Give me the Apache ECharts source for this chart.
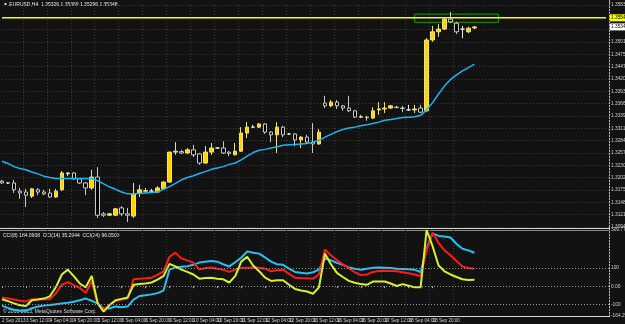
<!DOCTYPE html>
<html>
<head>
<meta charset="utf-8">
<script src="https://cdn.jsdelivr.net/npm/echarts@6/dist/echarts.min.js"></script>
<style>
  html, body { margin: 0; padding: 0; background: #121212; }
  #chart { width: 625px; height: 324px; }
</style>
</head>
<body>
<div id="chart"></div>
<script>
// EURUSD H4 with a moving average and three CCI lines, MetaTrader style

const titleText = '\u25BC EURUSD,H4  1.35326 1.35369 1.35296 1.35348';
const cciLegendText = 'CCI(8) 184.0908  CCI(14) 35.2944  CCI(24) 96.0503';
const copyrightText = '\u00A9 2001-2013, MetaQuotes Software Corp.';

const timeLabels = ['2 Sep 2013', '3 Sep 12:00', '4 Sep 04:00', '4 Sep 20:00', '5 Sep 12:00',
  '6 Sep 04:00', '6 Sep 20:00', '9 Sep 12:00', '10 Sep 04:00', '10 Sep 20:00',
  '11 Sep 12:00', '12 Sep 04:00', '12 Sep 20:00', '13 Sep 12:00', '16 Sep 04:00',
  '16 Sep 20:00', '17 Sep 12:00', '18 Sep 04:00', '18 Sep 20:00', '19 Sep 12:00'];

const priceTicks = ['1.30940', '1.31210', '1.31485', '1.31755', '1.32025', '1.32300',
  '1.32570', '1.32845', '1.33115', '1.33390', '1.33660', '1.33930', '1.34200',
  '1.34475', '1.34750', '1.35015', '', '', '1.35830'];
const priceMin = 1.3094;
const priceStep = 0.002717;

const opens = [
  1.3195, 1.3191, 1.3191, 1.3173, 1.3171, 1.3162, 1.3176, 1.3171, 1.3169, 1.3160,
  1.3176, 1.3211, 1.3213, 1.3200, 1.3191, 1.3180, 1.3204, 1.3123, 1.3120, 1.3120,
  1.3136, 1.3123, 1.3118, 1.3169, 1.3173, 1.3173, 1.3171, 1.3178, 1.3193, 1.3259,
  1.3260, 1.3257, 1.3264, 1.3255, 1.3235, 1.3259, 1.3268, 1.3268, 1.3259, 1.3253,
  1.3261, 1.3301, 1.3314, 1.3314, 1.3321, 1.3303, 1.3297, 1.3314, 1.3299, 1.3299,
  1.3286, 1.3292, 1.3281, 1.3277, 1.3367, 1.3361, 1.3369, 1.3361, 1.3356, 1.3350,
  1.3336, 1.3336, 1.3334, 1.3352, 1.3354, 1.3356, 1.3358, 1.3356, 1.3352, 1.3352,
  1.3356, 1.3350, 1.3506, 1.3524, 1.3530, 1.3552, 1.3543, 1.3530, 1.3524, 1.35326];
const closes = [
  1.3191, 1.3191, 1.3176, 1.3169, 1.3164, 1.3178, 1.3171, 1.3167, 1.3160, 1.3173,
  1.3213, 1.3213, 1.3200, 1.3191, 1.3180, 1.3204, 1.3120, 1.3120, 1.3123, 1.3134,
  1.3123, 1.3120, 1.3167, 1.3176, 1.3174, 1.3173, 1.3180, 1.3193, 1.3259, 1.3261,
  1.3257, 1.3264, 1.3253, 1.3235, 1.3259, 1.3268, 1.3268, 1.3257, 1.3256, 1.3261,
  1.3301, 1.3314, 1.3314, 1.3321, 1.3303, 1.3297, 1.3314, 1.3297, 1.3299, 1.3286,
  1.3292, 1.3281, 1.3277, 1.3303, 1.3361, 1.3369, 1.3361, 1.3356, 1.3350, 1.3336,
  1.3337, 1.3335, 1.3350, 1.3354, 1.3356, 1.3361, 1.3357, 1.3355, 1.3352, 1.3354,
  1.3347, 1.3506, 1.3524, 1.3530, 1.3552, 1.3546, 1.3524, 1.3530, 1.3532, 1.35348];
const lows = [
  1.3189, 1.3189, 1.3169, 1.3156, 1.3138, 1.3158, 1.3164, 1.3164, 1.3158, 1.3158,
  1.3173, 1.3206, 1.3198, 1.3189, 1.3164, 1.3176, 1.3114, 1.3116, 1.3118, 1.3118,
  1.3118, 1.3105, 1.3114, 1.3160, 1.3169, 1.3171, 1.3169, 1.3176, 1.3191, 1.3253,
  1.3255, 1.3255, 1.3248, 1.3231, 1.3233, 1.3253, 1.3266, 1.3255, 1.3250, 1.3252,
  1.3259, 1.3290, 1.3312, 1.3312, 1.3299, 1.3281, 1.3257, 1.3292, 1.3297, 1.3272,
  1.3268, 1.3279, 1.3257, 1.3275, 1.3356, 1.3358, 1.3354, 1.3350, 1.3347, 1.3334,
  1.3334, 1.3328, 1.3332, 1.3341, 1.3345, 1.3354, 1.3356, 1.3347, 1.3350, 1.3345,
  1.3345, 1.3347, 1.3502, 1.3513, 1.3528, 1.3543, 1.3519, 1.3510, 1.3521, 1.35296];
const highs = [
  1.3198, 1.3193, 1.3198, 1.3180, 1.3178, 1.3180, 1.3180, 1.3176, 1.3178, 1.3178,
  1.3217, 1.3215, 1.3215, 1.3202, 1.3193, 1.3220, 1.3226, 1.3127, 1.3125, 1.3136,
  1.3140, 1.3136, 1.3191, 1.3187, 1.3180, 1.3178, 1.3184, 1.3195, 1.3260, 1.3281,
  1.3264, 1.3268, 1.3275, 1.3257, 1.3272, 1.3279, 1.3270, 1.3283, 1.3261, 1.3279,
  1.3314, 1.3325, 1.3319, 1.3323, 1.3323, 1.3305, 1.3325, 1.3317, 1.3301, 1.3301,
  1.3294, 1.3297, 1.3323, 1.3310, 1.3383, 1.3374, 1.3374, 1.3363, 1.3383, 1.3352,
  1.3341, 1.3339, 1.3358, 1.3369, 1.3369, 1.3363, 1.3361, 1.3361, 1.3363, 1.3363,
  1.3363, 1.3510, 1.3537, 1.3541, 1.3554, 1.3568, 1.3546, 1.3537, 1.3535, 1.35369];

const maValues = [
  1.3239, 1.3234, 1.3227, 1.3223, 1.3220, 1.3215, 1.3211, 1.3206, 1.3203, 1.3201,
  1.3201, 1.3201, 1.3201, 1.3201, 1.3201, 1.3201, 1.3196, 1.3189, 1.3182, 1.3177,
  1.3171, 1.3167, 1.3167, 1.3168, 1.3169, 1.3170, 1.3171, 1.3177, 1.3183, 1.3190,
  1.3198, 1.3203, 1.3207, 1.3212, 1.3216, 1.3221, 1.3224, 1.3227, 1.3232, 1.3235,
  1.3242, 1.3250, 1.3258, 1.3263, 1.3265, 1.3268, 1.3271, 1.3274, 1.3275, 1.3276,
  1.3277, 1.3278, 1.3281, 1.3285, 1.3292, 1.3298, 1.3304, 1.3309, 1.3312, 1.3314,
  1.3317, 1.3319, 1.3322, 1.3325, 1.3329, 1.3331, 1.3333, 1.3335, 1.3336, 1.3337,
  1.3340, 1.3352, 1.3368, 1.3387, 1.3405, 1.3419, 1.3429, 1.3438, 1.3445, 1.3453];

const cciBlue = [
  -107.1, -119.5, -130.1, -135.4, -135.4, -121.3, -112.4, -107.1, -103.6, -100.0,
  -94.7, -91.2, -85.9, -77.0, -68.2, -80.5, -94.7, -124.8, -121.3, -112.4,
  -115.9, -112.4, -73.5, -54.0, -50.5, -45.1, -38.1, -24.0, 91.2, 103.5,
  107.1, 110.6, 117.7, 130.1, 135.4, 138.9, 135.4, 121.2, 108.9, 131.9,
  156.6, 192.0, 184.9, 179.6, 158.4, 135.4, 121.2, 117.7, 96.5, 78.8,
  73.5, 69.9, 77.0, 91.2, 153.1, 142.5, 128.3, 117.7, 103.5, 96.5,
  91.2, 96.5, 101.8, 103.5, 101.8, 100.0, 96.5, 94.7, 92.9, 91.2,
  77.0, 208.0, 291.2, 277.0, 273.5, 268.2, 232.8, 206.2, 197.4, 184.09];
const cciYellow = [
  -71.7, -82.3, -94.7, -105.3, -108.9, -77.0, -73.5, -68.2, -55.8, -6.2,
  64.6, 91.2, 55.8, 15.0, -6.2, 55.8, -94.7, -140.0, -103.6, -77.0,
  -69.9, -62.8, 7.9, 11.5, 15.0, 20.4, 36.3, 55.8, 123.0, 108.9,
  91.2, 78.8, 64.6, 41.6, 45.1, 46.9, 41.6, 38.1, 20.4, 55.8,
  135.4, 162.0, 114.2, 82.3, 46.9, 29.2, 32.7, 32.7, 7.9, -15.1,
  -23.9, -29.2, -41.6, -6.2, 179.6, 121.2, 73.5, 50.5, 29.2, 18.6,
  11.5, 7.9, 25.7, 25.7, 25.7, 15.0, 0.9, 11.5, 2.7, -6.2,
  -6.2, 309.77, 220.4, 114.2, 82.3, 64.6, 50.5, 38.1, 34.6, 35.29];
const cciRed = [
  -62.8, -68.1, -73.4, -80.5, -84.0, -71.6, -71.6, -71.6, -71.6, -39.7,
  8.0, 22.2, 6.3, -9.7, -36.2, 25.5, -94.7, -130.1, -103.6, -80.5,
  -73.5, -68.2, 38.1, 41.6, 43.4, 46.9, 62.8, 82.3, 162.0, 185.0,
  153.1, 142.5, 130.1, 91.2, 100.0, 103.5, 96.5, 91.2, 78.8, 91.2,
  100.0, 101.8, 103.5, 101.8, 96.5, 82.3, 87.6, 91.2, 68.1, 46.9,
  45.1, 43.4, 41.6, 64.6, 202.7, 170.8, 144.3, 121.2, 98.2, 77.0,
  61.1, 64.6, 78.8, 84.1, 85.8, 84.1, 82.3, 77.0, 71.7, 64.6,
  55.8, 199.0, 294.7, 238.1, 197.4, 170.8, 139.0, 108.9, 100.0, 96.05];

const cciLevels = [100, 0, -100];
const cciLevelLabels = ['100', '0.00', '-100'];
const cciRange = [-164.299, 309.7738];
const cciRangeLabels = ['-164.299', '309.7738'];

const hLinePrice = 1.35548;
const lastPrice = 1.35348;
const boxCorners = [[69, 1.3563], [83, 1.3545]];
const slotCount = 102;

const categories = Array.from({ length: slotCount }, (_, i) => String(i));
const candles = opens.map((o, i) => [o, closes[i], lows[i], highs[i]]);

const font = 'Liberation Sans';
const gridDots = { color: '#3a3a3a', type: [1, 2], width: 1 };
const isLabelSlot = (i) => i % 4 === 0 && i / 4 < timeLabels.length;

// a flat line across every slot at a given price, with a tag on the price scale
function priceTag(name, price, lineColor, tagBg) {
  return {
    name, type: 'line', xAxisIndex: 0, yAxisIndex: 0, silent: true,
    data: categories.map(() => price), symbol: 'none', z: 5,
    lineStyle: { color: lineColor, width: lineColor ? 1.5 : 0, opacity: lineColor ? 1 : 0 },
    endLabel: {
      show: true, formatter: price.toFixed(5), distance: 4,
      backgroundColor: tagBg, color: '#000', fontSize: 4.8, padding: [1, 1], fontFamily: font
    }
  };
}

const chart = echarts.init(document.getElementById('chart'));

const option = {
  animation: false,
  backgroundColor: '#121212',
  textStyle: { fontFamily: font },
  grid: [
    { left: -1, top: 5, width: 610, height: 222, containLabel: false, outerBoundsMode: 'none' },
    { left: -1, top: 230, width: 610, height: 86, containLabel: false, outerBoundsMode: 'none' }
  ],
  xAxis: [
    {
      type: 'category', gridIndex: 0, data: categories, boundaryGap: true,
      axisLine: { show: false }, axisTick: { show: false }, axisLabel: { show: false },
      splitLine: { show: true, interval: isLabelSlot, lineStyle: gridDots }
    },
    {
      type: 'category', gridIndex: 1, data: categories, boundaryGap: true,
      axisLine: { show: false },
      axisTick: { show: true, alignWithLabel: true, interval: isLabelSlot, length: 2, lineStyle: { color: '#bbb' } },
      axisLabel: {
        show: true, interval: isLabelSlot, align: 'left', margin: 2, showMinLabel: true,
        hideOverlap: false, fontSize: 4.6, color: '#d0d0d0', fontFamily: font,
        formatter: (v, i) => (isLabelSlot(i) ? timeLabels[i / 4] : '')
      },
      splitLine: { show: true, interval: isLabelSlot, lineStyle: gridDots }
    }
  ],
  yAxis: [
    {
      type: 'value', gridIndex: 0, position: 'right', scale: true,
      min: priceMin, max: priceMin + 18 * priceStep, interval: priceStep,
      axisLine: { show: false }, axisTick: { show: false },
      axisLabel: {
        margin: 2, fontSize: 4.8, color: '#d0d0d0', fontFamily: font,
        formatter: (v) => priceTicks[Math.round((v - priceMin) / priceStep)] || ''
      },
      splitLine: { show: true, lineStyle: gridDots }
    },
    {
      type: 'value', gridIndex: 1, position: 'right',
      min: cciRange[0], max: cciRange[1], interval: cciRange[1] - cciRange[0],
      axisLine: { show: false }, axisTick: { show: false },
      axisLabel: {
        margin: 2, fontSize: 4.8, color: '#d0d0d0', fontFamily: font,
        formatter: (v) => (v > 0 ? cciRangeLabels[1] : cciRangeLabels[0])
      },
      splitLine: { show: false }
    }
  ],
  series: [
    {
      name: 'EURUSD', type: 'candlestick', xAxisIndex: 0, yAxisIndex: 0,
      data: candles, barWidth: 4,
      itemStyle: {
        color: '#ffd400', color0: '#000000',
        borderColor: '#f2df80', borderColor0: '#c8c8c8', borderColorDoji: '#e8e8e8',
        borderWidth: 1
      },
      markArea: {
        silent: true,
        itemStyle: { color: 'rgba(0,0,0,0)', borderColor: '#14a014', borderWidth: 1 },
        data: [[{ coord: boxCorners[0] }, { coord: boxCorners[1] }]]
      }
    },
    {
      name: 'MA', type: 'line', xAxisIndex: 0, yAxisIndex: 0, data: maValues,
      symbol: 'none', lineStyle: { color: '#1cb4f0', width: 1.5 }
    },
    priceTag('level', hLinePrice, '#ffff00', '#ffff00'),
    priceTag('last', lastPrice, null, '#ffffff'),
    {
      name: 'CCI blue', type: 'line', xAxisIndex: 1, yAxisIndex: 1, data: cciBlue,
      symbol: 'none', lineStyle: { color: '#25c3f5', width: 2 },
      markLine: {
        silent: true, symbol: ['none', 'none'],
        lineStyle: { color: '#9a9a9a', type: [1, 2], width: 1 },
        label: {
          position: 'end', distance: 2, fontSize: 4.8, color: '#d0d0d0', fontFamily: font,
          formatter: (p) => cciLevelLabels[cciLevels.indexOf(p.value)]
        },
        data: cciLevels.map((v) => ({ yAxis: v }))
      }
    },
    {
      name: 'CCI red', type: 'line', xAxisIndex: 1, yAxisIndex: 1, data: cciRed,
      symbol: 'none', lineStyle: { color: '#ff1a1a', width: 2 }
    },
    {
      name: 'CCI yellow', type: 'line', xAxisIndex: 1, yAxisIndex: 1, data: cciYellow,
      symbol: 'none', lineStyle: { color: '#d6f22a', width: 2 }
    }
  ],
  graphic: [
    { type: 'line', shape: { x1: 609.5, y1: 0, x2: 609.5, y2: 317 }, style: { stroke: '#b8b8b8', lineWidth: 1 }, silent: true },
    { type: 'line', shape: { x1: 0, y1: 228.5, x2: 610, y2: 228.5 }, style: { stroke: '#d8d8d8', lineWidth: 1 }, silent: true },
    { type: 'line', shape: { x1: 0, y1: 230.5, x2: 610, y2: 230.5 }, style: { stroke: '#8a8a8a', lineWidth: 1 }, silent: true },
    { type: 'line', shape: { x1: 0, y1: 316.5, x2: 610, y2: 316.5 }, style: { stroke: '#d8d8d8', lineWidth: 1 }, silent: true },
    { type: 'text', left: 3, top: 2, style: { text: titleText, fill: '#e8e8e8', fontSize: 5, fontFamily: font } },
    { type: 'text', left: 3, top: 233, style: { text: cciLegendText, fill: '#e8e8e8', fontSize: 5, fontFamily: font } },
    { type: 'text', left: 3, top: 309, style: { text: copyrightText, fill: '#d8d8d8', fontSize: 5, fontFamily: font } }
  ]
};

chart.setOption(option);
</script>
</body>
</html>
